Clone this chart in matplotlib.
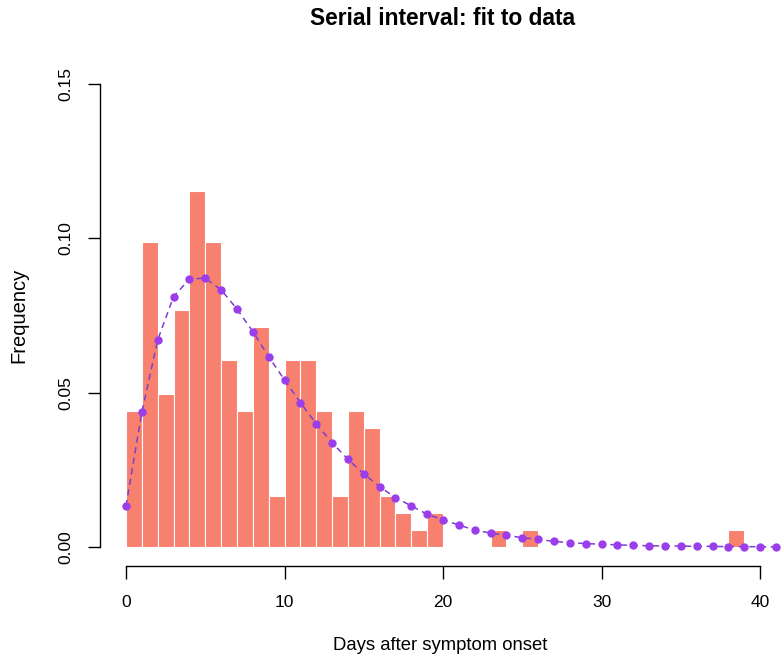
import matplotlib
matplotlib.use("Agg")
import matplotlib.pyplot as plt
import numpy as np

plt.rcParams['font.family'] = ['Liberation Sans', 'DejaVu Sans']

# histogram: counts per day (bins [k, k+1)), total 182 cases
days = [0, 1, 2, 3, 4, 5, 6, 7, 8, 9, 10, 11, 12, 13, 14, 15, 16, 17, 18, 19,
        23, 25, 38]
counts = [8, 18, 9, 14, 21, 18, 11, 8, 13, 3, 11, 11, 8, 3, 8, 7, 3, 2, 1, 2,
          1, 1, 1]
total = 182

# fitted curve
fit_x = list(range(0, 42))
fit_y = [0.0133, 0.0437, 0.0671, 0.0811, 0.0868, 0.0871, 0.0833, 0.0771,
         0.0698, 0.0617, 0.0541, 0.0468, 0.0399, 0.0338, 0.0284, 0.0237,
         0.0195, 0.0160, 0.0133, 0.0106, 0.0088, 0.0071, 0.0055, 0.0045,
         0.0038, 0.0030, 0.0025, 0.0018, 0.0014, 0.0011, 0.0009, 0.0007,
         0.0005, 0.0004, 0.0003, 0.0003, 0.0002, 0.0002, 0.0001, 0.0001,
         0.0001, 0.0000]

xticks = [0, 10, 20, 30, 40]
yticks = [0.00, 0.05, 0.10, 0.15]
ytick_labels = ["0.00", "0.05", "0.10", "0.15"]

W, H = 781, 662
fig = plt.figure(figsize=(W / 100, H / 100), dpi=100)
ax = fig.add_axes([100 / W, 1 - 565.5 / H, (781 - 100) / W, (565.5 - 65.5) / H])

freq = np.array(counts) / total
ax.bar(days, freq, width=1, align='edge', color='#F8806F',
       edgecolor='white', linewidth=0.8, zorder=1)

ax.plot(fit_x, fit_y, linestyle=(0, (4, 3)), color='#7B3FD0', lw=1.1,
        marker='o', markersize=5, markerfacecolor='#9B3DEB',
        markeredgecolor='#9B3DEB', zorder=3, clip_on=False)

ax.set_xlim(-1.64, 41.32)
ax.set_ylim(-0.006, 0.156)

for s in ['top', 'right']:
    ax.spines[s].set_visible(False)
ax.spines['left'].set_bounds(0, 0.15)
ax.spines['bottom'].set_bounds(0, 40)
ax.spines['left'].set_linewidth(1.0)
ax.spines['bottom'].set_linewidth(1.0)

ax.set_xticks(xticks)
ax.set_yticks(yticks)
ax.set_yticklabels(ytick_labels, rotation=90, va='center')
ax.tick_params(axis='both', length=9, width=1.0, labelsize=12.5)
ax.tick_params(axis='x', pad=12)
ax.tick_params(axis='y', pad=10)

ax.set_xlabel("Days after symptom onset", fontsize=13.3, labelpad=20)
ax.set_ylabel("Frequency", fontsize=14.5, labelpad=22)

fig.text(443 / W, 1 - 18.5 / H, "Serial interval: fit to data", fontsize=16.4,
         fontweight='bold', ha='center', va='center')

fig.savefig("out.png", dpi=100)
